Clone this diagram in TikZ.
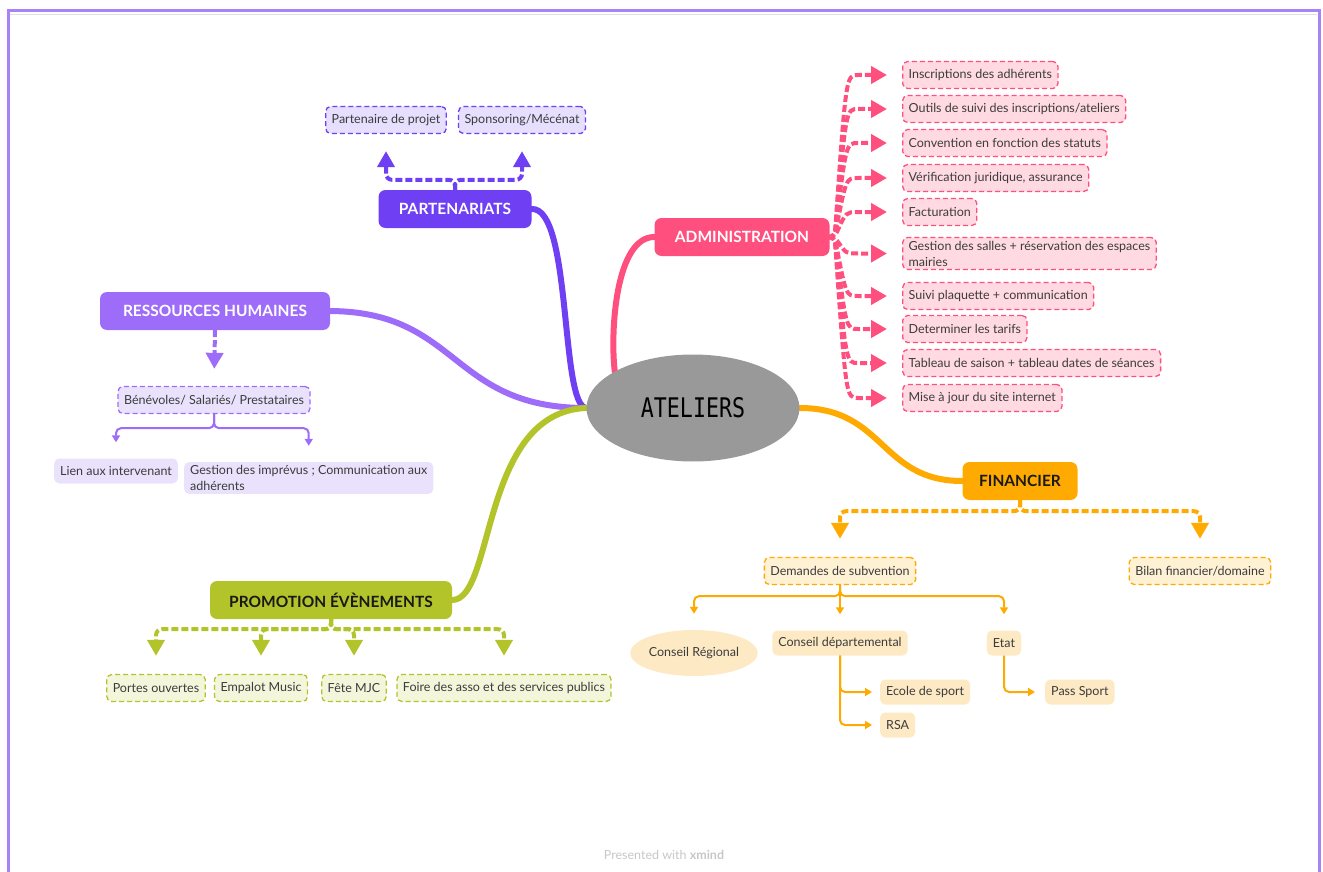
\documentclass[tikz,border=0pt]{standalone}
\usepackage{fontspec}
\setmainfont{Lato}
\newfontfamily\centrefont[FakeStretch=0.8]{DejaVu Sans Mono}
\usetikzlibrary{arrows.meta,backgrounds,shapes.geometric}

\definecolor{partcol}{HTML}{6E3FF3}
\definecolor{partfill}{HTML}{E6DFFD}
\definecolor{admcol}{HTML}{FF4F7E}
\definecolor{admfill}{HTML}{FFDAE3}
\definecolor{rhcol}{HTML}{9D6CF8}
\definecolor{rhfill}{HTML}{EAE2FD}
\definecolor{promcol}{HTML}{B3C42B}
\definecolor{promfill}{HTML}{F3F6DA}
\definecolor{fincol}{HTML}{FFAA00}
\definecolor{finfill}{HTML}{FFF1D4}
\definecolor{leaffill}{HTML}{FDEAC4}
\definecolor{txtcol}{HTML}{3C3C3C}
\definecolor{framecol}{HTML}{A883F8}

\begin{document}
\begin{tikzpicture}[x=1pt, y=-1pt,
        topic/.style={rounded corners=7pt, minimum height=38pt, inner xsep=8pt,
            font=\fontsize{15.5}{17}\selectfont\bfseries},
        sub/.style={rounded corners=5pt, line width=1.3pt, dash pattern=on 5pt off 3pt,
            minimum height=27pt, inner xsep=6pt, align=left, text=txtcol,
            font=\fontsize{12.5}{16}\selectfont},
        leaf/.style={rounded corners=5pt, minimum height=25pt, inner xsep=6pt,
            align=left, text=txtcol, font=\fontsize{12.5}{16}\selectfont},
        branch/.style={line width=6pt, line cap=round},
        bigtip/.style={-{Triangle[length=16pt, width=17pt]}},
        dashlink/.style={line width=4pt, dash pattern=on 7pt off 3pt, rounded corners=6pt, bigtip},
        thinlink/.style={line width=2pt, rounded corners=5pt, -{Triangle[length=7pt, width=8pt]}}]

    \useasboundingbox (0,0) rectangle (1323,872);

    % Frame
    \draw[framecol, line width=3pt] (8,872) -- (8,11) -- (1319,11) -- (1319,872);
    \draw[black!12, line width=1.2pt] (10,14.5) -- (1317,14.5);

    % Nodes (centre and main topics)
    \node[ellipse, fill=black!40, minimum width=213pt, minimum height=107pt,
        font=\centrefont\fontsize{27}{29}\selectfont] (ateliers) at (693,408) {ATELIERS};
    \node[topic, fill=partcol, text=white, minimum width=153pt] (part) at (455,209) {PARTENARIATS};
    \node[topic, fill=admcol, text=white, minimum width=175pt] (adm) at (742,237) {ADMINISTRATION};
    \node[topic, fill=rhcol, text=white, minimum width=230pt] (rh) at (215,311) {RESSOURCES HUMAINES};
    \node[topic, fill=promcol, text=black!90, minimum width=242pt] (prom) at (331,600) {PROMOTION ÉVÈNEMENTS};
    \node[topic, fill=fincol, text=black!90, minimum width=115pt] (fin) at (1020,481) {FINANCIER};

    % Nodes (Partenariats)
    \node[sub, draw=partcol, fill=partfill] (pp) at (386,120) {Partenaire de projet};
    \node[sub, draw=partcol, fill=partfill] (spons) at (522,120) {Sponsoring/Mécénat};

    % Nodes (Administration)
    \node[sub, draw=admcol, fill=admfill, anchor=west] (a1) at (902,75) {Inscriptions des adhérents};
    \node[sub, draw=admcol, fill=admfill, anchor=west] (a2) at (902,109) {Outils de suivi des inscriptions/ateliers};
    \node[sub, draw=admcol, fill=admfill, anchor=west] (a3) at (902,143) {Convention en fonction des statuts};
    \node[sub, draw=admcol, fill=admfill, anchor=west] (a4) at (902,178) {Vérification juridique, assurance};
    \node[sub, draw=admcol, fill=admfill, anchor=west] (a5) at (902,212) {Facturation};
    \node[sub, draw=admcol, fill=admfill, anchor=west] (a6) at (902,253.5) {Gestion des salles + réservation des espaces\\mairies};
    \node[sub, draw=admcol, fill=admfill, anchor=west] (a7) at (902,296) {Suivi plaquette + communication};
    \node[sub, draw=admcol, fill=admfill, anchor=west] (a8) at (902,329) {Determiner les tarifs};
    \node[sub, draw=admcol, fill=admfill, anchor=west] (a9) at (902,363) {Tableau de saison + tableau dates de séances};
    \node[sub, draw=admcol, fill=admfill, anchor=west] (a10) at (902,398) {Mise à jour du site internet};

    % Nodes (Ressources humaines)
    \node[sub, draw=rhcol, fill=rhfill] (ben) at (214,400) {Bénévoles/ Salariés/ Prestataires};
    \node[leaf, fill=rhfill] (lien) at (116,471) {Lien aux intervenant};
    \node[leaf, fill=rhfill, anchor=west] (imp) at (184,478) {Gestion des imprévus ; Communication aux\\adhérents};

    % Nodes (Promotion)
    \node[sub, draw=promcol, fill=promfill] (po) at (156,688) {Portes ouvertes};
    \node[sub, draw=promcol, fill=promfill] (emp) at (261,688) {Empalot Music};
    \node[sub, draw=promcol, fill=promfill] (fete) at (354,688) {Fête MJC};
    \node[sub, draw=promcol, fill=promfill] (foire) at (504,688) {Foire des asso et des services publics};

    % Nodes (Financier)
    \node[sub, draw=fincol, fill=finfill] (dem) at (840,571) {Demandes de subvention};
    \node[sub, draw=fincol, fill=finfill] (bilan) at (1200,571) {Bilan financier/domaine};
    \node[ellipse, fill=leaffill, minimum width=126pt, minimum height=46pt, inner sep=0pt, text=txtcol,
        font=\fontsize{12.5}{16}\selectfont] (cr) at (694,653) {Conseil Régional};
    \node[leaf, fill=leaffill] (cd) at (840,643) {Conseil départemental};
    \node[leaf, fill=leaffill] (etat) at (1004,643) {Etat};
    \node[leaf, fill=leaffill, anchor=west] (eds) at (880,692) {Ecole de sport};
    \node[leaf, fill=leaffill, anchor=west] (rsa) at (880,725) {RSA};
    \node[leaf, fill=leaffill, anchor=west] (pass) at (1045,692) {Pass Sport};

    \node[text=black!22, font=\fontsize{12.5}{14}\selectfont] (credit) at (664,855) {Presented with \textbf{xmind}};

    % Main branches
    \begin{scope}[on background layer]
        \draw[branch, partcol] (ateliers.west) .. controls (560,406) and (572,207) .. (part.east);
        \draw[branch, admcol] (ateliers.155) .. controls (610,330) and (616,237) .. (adm.west);
        \draw[branch, rhcol] (ateliers.west) .. controls (450,408) and (460,312) .. (rh.east);
        \draw[branch, promcol] (ateliers.west) .. controls (480,412) and (495,600) .. (prom.east);
        \draw[branch, fincol] (ateliers.east) .. controls (885,408) and (880,481) .. (fin.west);
    \end{scope}

    % Links (Partenariats)
    \draw[dashlink, partcol, shorten >=17pt] (part.north) -- ++(0,-10) -| (pp.south);
    \draw[dashlink, partcol, shorten >=17pt] (part.north) -- ++(0,-10) -| (spons.south);

    % Links (Administration)
    \coordinate (aj) at (846,0);
    \coordinate (ak) at (864,0);
    \foreach \c in {a1,a2,a3,a4,a5,a6,a7,a8,a9,a10}
        \draw[dashlink, admcol, shorten >=15pt] (adm.east) -- ++(5,0)
            .. controls (aj |- \c.west) .. (ak |- \c.west) -- (\c.west);

    % Links (Ressources humaines)
    \draw[dashlink, rhcol, shorten >=17pt] (rh.south) -- (ben.north);
    \draw[thinlink, rhcol, shorten >=16pt] (ben.south) -- ++(0,14) -| (lien.north);
    \draw[thinlink, rhcol, shorten >=16pt] (ben.south) -- ++(0,14) -| (imp.north);

    % Links (Promotion)
    \foreach \c in {po,emp,fete,foire}
        \draw[dashlink, promcol, shorten >=18pt] (prom.south) -- ++(0,10) -| (\c.north);

    % Links (Financier)
    \draw[dashlink, fincol, shorten >=18pt] (fin.south) -- ++(0,11) -| (dem.north);
    \draw[dashlink, fincol, shorten >=18pt] (fin.south) -- ++(0,11) -| (bilan.north);
    \foreach \c in {cr,cd,etat}
        \draw[thinlink, fincol, shorten >=16pt] (dem.south) -- ++(0,11) -| (\c.north);
    \draw[thinlink, fincol, shorten >=8pt] (cd.south) |- (eds.west);
    \draw[thinlink, fincol, shorten >=8pt] (cd.south) |- (rsa.west);
    \draw[thinlink, fincol, shorten >=10pt] (etat.south) |- (pass.west);
\end{tikzpicture}
\end{document}
